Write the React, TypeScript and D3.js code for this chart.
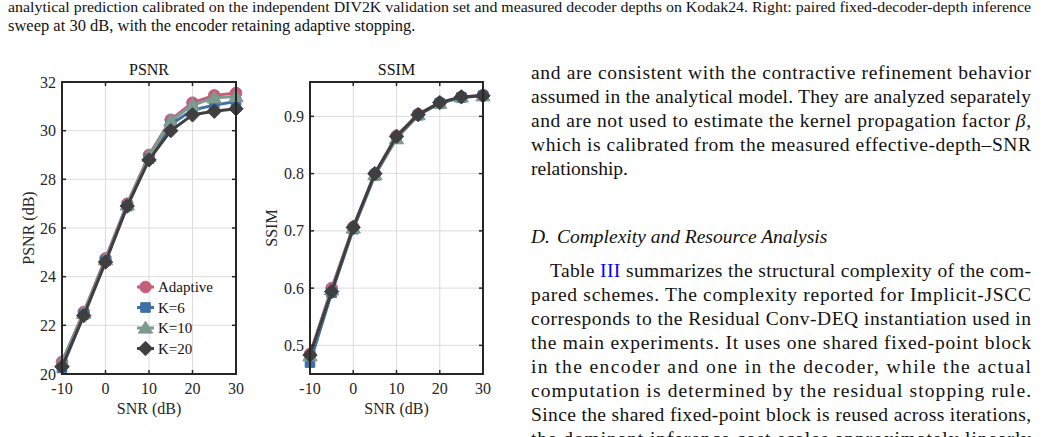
import React from "react";
import * as d3 from "d3";

// SNR sweep (dB)
const snr = [-10, -5, 0, 5, 10, 15, 20, 25, 30];

// PSNR (dB) per decoder setting
const psnrAdaptive = [20.5, 22.55, 24.75, 27.0, 29.0, 30.45, 31.15, 31.45, 31.55];
const psnrK6 = [20.25, 22.45, 24.65, 26.9, 28.85, 30.25, 30.85, 31.05, 31.2];
const psnrK10 = [20.5, 22.5, 24.7, 26.95, 28.95, 30.4, 31.05, 31.35, 31.4];
const psnrK20 = [20.3, 22.4, 24.6, 26.9, 28.8, 30.0, 30.65, 30.8, 30.9];

// SSIM per decoder setting
const ssimAdaptive = [0.485, 0.6, 0.707, 0.8, 0.866, 0.904, 0.924, 0.934, 0.937];
const ssimK6 = [0.47, 0.592, 0.703, 0.797, 0.862, 0.902, 0.923, 0.933, 0.936];
const ssimK10 = [0.482, 0.597, 0.705, 0.798, 0.861, 0.903, 0.923, 0.934, 0.936];
const ssimK20 = [0.483, 0.594, 0.706, 0.8, 0.865, 0.903, 0.924, 0.934, 0.936];

const seriesNames = ["Adaptive", "K=6", "K=10", "K=20"];
const seriesColors = ["#c35f7d", "#3e6fa7", "#7b9b8e", "#3f3f3f"];
const seriesMarkers = ["circle", "square", "triangle", "diamond"];

const xTicks = [-10, 0, 10, 20, 30];
const psnrTicks = [20, 22, 24, 26, 28, 30, 32];
const ssimTicks = [0.5, 0.6, 0.7, 0.8, 0.9];

const SERIF = "'Liberation Serif', 'Times New Roman', serif";

function markerPath(kind: string, cx: number, cy: number) {
  if (kind === "circle") {
    const r = 5.8;
    return `M${cx - r},${cy}a${r},${r} 0 1,0 ${2 * r},0a${r},${r} 0 1,0 ${-2 * r},0Z`;
  }
  if (kind === "square") {
    const s = 4.8;
    return `M${cx - s},${cy - s}h${2 * s}v${2 * s}h${-2 * s}Z`;
  }
  if (kind === "triangle") {
    const h = 6.8;
    return `M${cx},${cy - h}L${cx + h * 1.05},${cy + h * 0.75}L${cx - h * 1.05},${cy + h * 0.75}Z`;
  }
  const d = 7.2;
  return `M${cx},${cy - d}L${cx + d},${cy}L${cx},${cy + d}L${cx - d},${cy}Z`;
}

type PanelProps = {
  left: number;
  right: number;
  top: number;
  bottom: number;
  yDomain: [number, number];
  yTicks: number[];
  yFmt: (v: number) => string;
  data: number[][];
  title: string;
  yLabel: string;
  yLabelX: number;
  legend?: boolean;
};

const Panel = ({ left, right, top, bottom, yDomain, yTicks, yFmt, data, title, yLabel, yLabelX, legend }: PanelProps) => {
  const x = d3.scaleLinear().domain([-10, 30]).range([left, right]);
  const y = d3.scaleLinear().domain(yDomain).range([bottom, top]);
  const line = d3
    .line<number>()
    .x((_, i) => x(snr[i]))
    .y((d) => y(d));
  const axisColor = "#262626";
  const tl = 4;
  const cx = (left + right) / 2;

  return (
    <g>
      {/* grid */}
      {xTicks.map((t) => (
        <line key={"gx" + t} x1={x(t)} x2={x(t)} y1={top} y2={bottom} stroke="#dcdcdc" strokeWidth={1} />
      ))}
      {yTicks.map((t) => (
        <line key={"gy" + t} x1={left} x2={right} y1={y(t)} y2={y(t)} stroke="#dcdcdc" strokeWidth={1} />
      ))}

      {/* series */}
      {data.map((vals, si) => (
        <g key={si}>
          <path d={line(vals) || ""} fill="none" stroke={seriesColors[si]} strokeWidth={3} strokeLinejoin="round" />
          {vals.map((v, i) => (
            <path key={i} d={markerPath(seriesMarkers[si], x(snr[i]), y(v))} fill={seriesColors[si]} stroke={seriesColors[si]} strokeWidth={1} />
          ))}
        </g>
      ))}

      {/* frame + ticks */}
      <rect x={left} y={top} width={right - left} height={bottom - top} fill="none" stroke={axisColor} strokeWidth={2} />
      {xTicks.map((t) => (
        <g key={"tx" + t}>
          <line x1={x(t)} x2={x(t)} y1={bottom} y2={bottom - tl} stroke={axisColor} strokeWidth={1.5} />
          <line x1={x(t)} x2={x(t)} y1={top} y2={top + tl} stroke={axisColor} strokeWidth={1.5} />
          <text x={x(t)} y={bottom + 20} textAnchor="middle" fontSize={16} fill="#262626">
            {t}
          </text>
        </g>
      ))}
      {yTicks.map((t) => (
        <g key={"ty" + t}>
          <line x1={left} x2={left + tl} y1={y(t)} y2={y(t)} stroke={axisColor} strokeWidth={1.5} />
          <line x1={right} x2={right - tl} y1={y(t)} y2={y(t)} stroke={axisColor} strokeWidth={1.5} />
          <text x={left - 6} y={y(t)} dy="0.35em" textAnchor="end" fontSize={16} fill="#262626">
            {yFmt(t)}
          </text>
        </g>
      ))}

      <text x={cx} y={top - 7} textAnchor="middle" fontSize={16} fill="#111">
        {title}
      </text>
      <text x={cx} y={bottom + 40} textAnchor="middle" fontSize={16} fill="#262626">
        SNR (dB)
      </text>
      <text
        transform={`translate(${yLabelX},${(top + bottom) / 2}) rotate(-90)`}
        textAnchor="middle"
        dy="0.35em"
        fontSize={16}
        fill="#262626"
      >
        {yLabel}
      </text>

      {legend &&
        seriesNames.map((name, si) => {
          const ly = 287 + si * 20.5;
          return (
            <g key={name}>
              <line x1={137} x2={154} y1={ly} y2={ly} stroke={seriesColors[si]} strokeWidth={3} />
              <path d={markerPath(seriesMarkers[si], 145.5, ly)} fill={seriesColors[si]} stroke={seriesColors[si]} />
              <text x={158} y={ly} dy="0.35em" fontSize={15} fill="#111">
                {name}
              </text>
            </g>
          );
        })}
    </g>
  );
};

const col1 = [
  "and are consistent with the contractive refinement behavior",
  "assumed in the analytical model. They are analyzed separately",
];
const col2 = [
  "pared schemes. The complexity reported for Implicit-JSCC",
  "corresponds to the Residual Conv-DEQ instantiation used in",
  "the main experiments. It uses one shared fixed-point block",
  "in the encoder and one in the decoder, while the actual",
  "computation is determined by the residual stopping rule.",
  "Since the shared fixed-point block is reused across iterations,",
  "the dominant inference cost scales approximately linearly",
];

export default function App() {
  const tx = 531;
  const tw = 500;
  const fs = 19.5;
  return (
    <div style={{ position: "absolute", left: 0, top: 0 }}>
      <svg width={1041} height={437} fontFamily={SERIF} style={{ display: "block", background: "#fff" }}>
        {/* caption tail */}
        <text x={8} y={12} fontSize={15.5} fill="#111" textLength={1023} lengthAdjust="spacingAndGlyphs">
          analytical prediction calibrated on the independent DIV2K validation set and measured decoder depths on Kodak24. Right: paired fixed-decoder-depth inference
        </text>
        <text x={8} y={31} fontSize={16.5} fill="#111">
          sweep at 30 dB, with the encoder retaining adaptive stopping.
        </text>

        <Panel
          left={62}
          right={236}
          top={82}
          bottom={374}
          yDomain={[20, 32]}
          yTicks={psnrTicks}
          yFmt={(v) => String(v)}
          data={[psnrAdaptive, psnrK6, psnrK10, psnrK20]}
          title="PSNR"
          yLabel="PSNR (dB)"
          yLabelX={28}
          legend
        />
        <Panel
          left={310}
          right={483}
          top={82}
          bottom={374}
          yDomain={[0.45, 0.96]}
          yTicks={ssimTicks}
          yFmt={(v) => v.toFixed(1)}
          data={[ssimAdaptive, ssimK6, ssimK10, ssimK20]}
          title="SSIM"
          yLabel="SSIM"
          yLabelX={271}
        />

        {/* right column text */}
        <g fontSize={fs} fill="#111" fontFamily={SERIF}>
          {col1.map((s, i) => (
            <text key={s} x={tx} y={79 + i * 24} textLength={tw} lengthAdjust="spacing">
              {s}
            </text>
          ))}
          <text x={tx} y={127} textLength={tw} lengthAdjust="spacing">
            and are not used to estimate the kernel propagation factor <tspan fontStyle="italic">β</tspan>,
          </text>
          <text x={tx} y={151} textLength={tw} lengthAdjust="spacing">
            which is calibrated from the measured effective-depth–SNR
          </text>
          <text x={tx} y={175}>
            relationship.
          </text>
          <text x={tx} y={243} fontStyle="italic">
            D.<tspan x={tx + 26}>Complexity and Resource Analysis</tspan>
          </text>
          <text x={550} y={277} textLength={tw - 19} lengthAdjust="spacing">
            Table <tspan fill="#0000ff">III</tspan> summarizes the structural complexity of the com-
          </text>
          {col2.map((s, i) => (
            <text key={s} x={tx} y={301 + i * 24} textLength={tw} lengthAdjust="spacing">
              {s}
            </text>
          ))}
        </g>
      </svg>
    </div>
  );
}
